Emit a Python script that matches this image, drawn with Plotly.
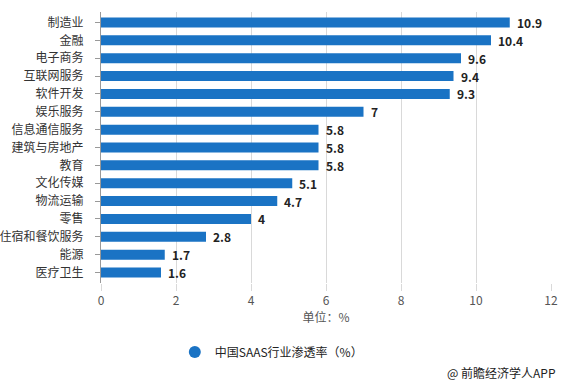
import plotly.graph_objects as go

categories = ["制造业", "金融", "电子商务", "互联网服务", "软件开发", "娱乐服务", "信息通信服务",
              "建筑与房地产", "教育", "文化传媒", "物流运输", "零售", "住宿和餐饮服务", "能源", "医疗卫生"]
values = [10.9, 10.4, 9.6, 9.4, 9.3, 7, 5.8, 5.8, 5.8, 5.1, 4.7, 4, 2.8, 1.7, 1.6]
x_ticks = [0, 2, 4, 6, 8, 10, 12]
series_name = "中国SAAS行业渗透率（%）"

color = "#1a73c4"
font_family = "Noto Sans CJK SC, Microsoft YaHei, sans-serif"

fig = go.Figure()
fig.add_trace(go.Bar(
    x=values, y=categories, orientation="h",
    marker=dict(color=color, line=dict(width=0)),
    width=0.56,
    showlegend=False,
    hoverinfo="x+y",
))
fig.add_trace(go.Scatter(
    x=[None], y=[None], mode="markers", name=series_name,
    marker=dict(symbol="circle", size=12, color=color),
))

annotations = []
for c, v in zip(categories, values):
    annotations.append(dict(x=v, y=c, xref="x", yref="y", text=f"{v:g}", showarrow=False,
                            xanchor="left", yanchor="middle", xshift=5,
                            font=dict(size=12, color="#222222", family="Noto Sans CJK SC", weight="bold")))

annotations.append(dict(text="@ 前瞻经济学人APP", xref="paper", yref="paper", x=1.016, y=-0.33,
                        xanchor="right", yanchor="middle", showarrow=False,
                        font=dict(size=12, color="#222222")))

fig.update_layout(
    width=565, height=387,
    margin=dict(l=101, r=14, t=12, b=104),
    paper_bgcolor="white", plot_bgcolor="white",
    font=dict(family=font_family, size=12, color="#333333"),
    legend=dict(orientation="h", x=0.164, xref="paper", y=-0.255, yanchor="middle",
                font=dict(size=12, color="#222222"), itemsizing="constant", itemwidth=30),
    xaxis=dict(range=[0, 12], tickvals=x_ticks, showgrid=True, gridcolor="#d9d9d9", gridwidth=1,
               zeroline=False, showline=False, ticks="outside", ticklen=7, tickcolor="#d9d9d9",
               tickfont=dict(size=12, color="#555555"), automargin=False,
               title=dict(text="单位：%", font=dict(size=12, color="#555555"), standoff=6)),
    yaxis=dict(categoryorder="array", categoryarray=categories, autorange="reversed",
               showline=True, linecolor="#999999", linewidth=1, ticks="outside", ticklen=5,
               tickcolor="#999999", ticklabelstandoff=9, automargin=False,
               tickfont=dict(size=12, color="#333333"), showgrid=False),
    annotations=annotations,
)

fig.write_html("out.html", config={"displayModeBar": False},
               post_script="document.body.style.margin='0';document.body.style.overflow='hidden';")
